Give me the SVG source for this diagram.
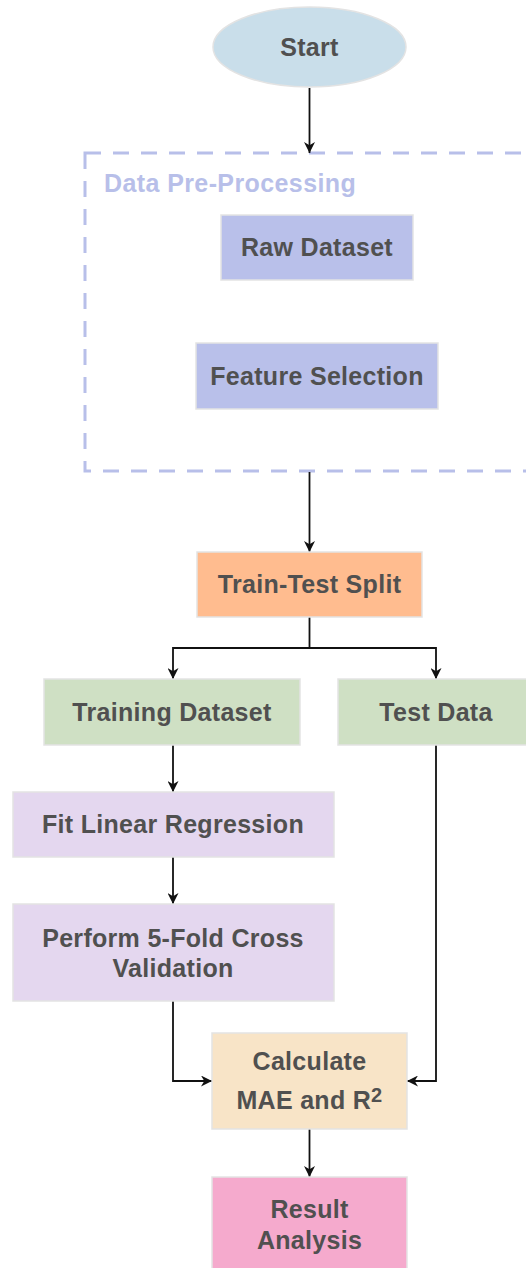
<svg xmlns="http://www.w3.org/2000/svg" width="526" height="1268" viewBox="0 0 526 1268">
  <style>
    .lbl { font-family: "Liberation Sans", Arial, Helvetica, sans-serif; font-weight: bold; font-size: 25px; letter-spacing: 0.3px; fill: #505050; text-anchor: middle; }
    .box { stroke: #e3e3e3; stroke-width: 1.5; }
    .edge { fill: none; stroke: #111; stroke-width: 1.8; }
  </style>
  <defs>
    <marker id="arrow" viewBox="0 0 10 10" refX="10" refY="5" markerWidth="12" markerHeight="11" markerUnits="userSpaceOnUse" orient="auto">
      <path d="M0,0 L10,5 L0,10 L3,5 Z" fill="#111"/>
    </marker>
  </defs>
  <rect width="526" height="1268" fill="#ffffff"/>

  <!-- pre-processing container -->
  <g id="group-preprocessing">
    <rect x="85" y="153" width="460" height="318" fill="none" stroke="#b8bfe9" stroke-width="3" stroke-dasharray="16 12"/>
    <text x="104" y="192" font-family="Liberation Sans, Arial, sans-serif" font-weight="bold" font-size="25" letter-spacing="0.4" fill="#b8bfe9">Data Pre-Processing</text>
  </g>

  <g id="connectors">
    <path class="edge" d="M309.5,88 V153" marker-end="url(#arrow)"/>
    <path class="edge" d="M309.5,472 V552" marker-end="url(#arrow)"/>
    <path class="edge" d="M309.5,617 V648 H173 V679" marker-end="url(#arrow)"/>
    <path class="edge" d="M309.5,648 H436 V679" marker-end="url(#arrow)"/>
    <path class="edge" d="M173,745 V792" marker-end="url(#arrow)"/>
    <path class="edge" d="M173,857 V904" marker-end="url(#arrow)"/>
    <path class="edge" d="M173,1001 V1081 H212" marker-end="url(#arrow)"/>
    <path class="edge" d="M436,745 V1081 H407" marker-end="url(#arrow)"/>
    <path class="edge" d="M309.5,1129 V1177" marker-end="url(#arrow)"/>
  </g>

  <g id="node-start">
    <ellipse cx="309.5" cy="47" rx="96.5" ry="40" fill="#c9deea" class="box"/>
    <text class="lbl" x="309.5" y="56">Start</text>
  </g>
  <g id="node-raw-dataset">
    <rect class="box" x="221" y="215" width="192" height="65" fill="#b9c0ea"/>
    <text class="lbl" x="317" y="256">Raw Dataset</text>
  </g>
  <g id="node-feature-selection">
    <rect class="box" x="196" y="343" width="242" height="66" fill="#b9c0ea"/>
    <text class="lbl" x="317" y="385">Feature Selection</text>
  </g>
  <g id="node-train-test-split">
    <rect class="box" x="197" y="552" width="225" height="65" fill="#ffbc8f"/>
    <text class="lbl" x="309.5" y="593">Train-Test Split</text>
  </g>
  <g id="node-training-dataset">
    <rect class="box" x="44" y="679" width="256" height="66" fill="#cfe0c4"/>
    <text class="lbl" x="172" y="721">Training Dataset</text>
  </g>
  <g id="node-test-data">
    <rect class="box" x="338" y="679" width="190" height="66" fill="#cfe0c4"/>
    <text class="lbl" x="436" y="721">Test Data</text>
  </g>
  <g id="node-fit-linear-regression">
    <rect class="box" x="13" y="792" width="321" height="65" fill="#e4d7ef"/>
    <text class="lbl" x="173" y="833">Fit Linear Regression</text>
  </g>
  <g id="node-cross-validation">
    <rect class="box" x="13" y="904" width="321" height="97" fill="#e4d7ef"/>
    <text class="lbl" x="173" y="947">Perform 5-Fold Cross</text>
    <text class="lbl" x="173" y="977">Validation</text>
  </g>
  <g id="node-calculate-metrics">
    <rect class="box" x="212" y="1033" width="195" height="96" fill="#f8e4c7"/>
    <text class="lbl" x="309.5" y="1070">Calculate</text>
    <text class="lbl" x="309.5" y="1109">MAE and R<tspan font-size="20" dy="-7">2</tspan></text>
  </g>
  <g id="node-result-analysis">
    <rect class="box" x="212" y="1177" width="195" height="92" fill="#f5aacd"/>
    <text class="lbl" x="309.5" y="1218">Result</text>
    <text class="lbl" x="309.5" y="1249">Analysis</text>
  </g>
</svg>
